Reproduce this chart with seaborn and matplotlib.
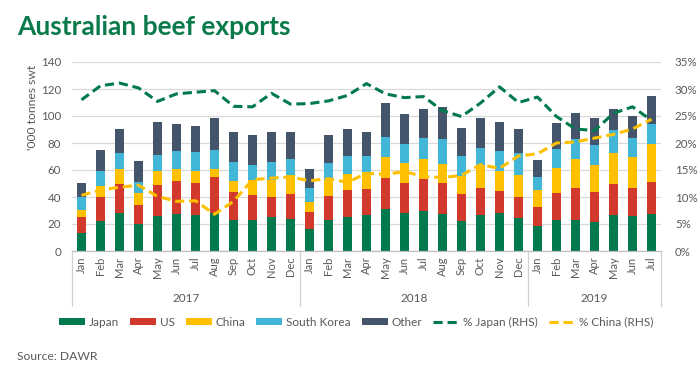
import numpy as np
import matplotlib
matplotlib.use("Agg")
import matplotlib.pyplot as plt
import seaborn as sns
from matplotlib.patches import Patch
from matplotlib.lines import Line2D
from matplotlib import transforms

# ---------------- data ----------------
years = ["2017", "2018", "2019"]
year_counts = [12, 12, 7]
month_names = ["Jan", "Feb", "Mar", "Apr", "May", "Jun",
               "Jul", "Aug", "Sep", "Oct", "Nov", "Dec"]
months = month_names + month_names + month_names[:7]

japan = [13.6, 22.3, 28.0, 20.0, 26.2, 27.2, 26.7, 28.0, 23.0, 22.8, 25.2, 23.5,
         16.1, 23.2, 25.5, 26.7, 31.2, 28.2, 29.7, 27.2, 22.3, 26.5, 28.4, 24.7,
         18.8, 23.2, 23.0, 21.8, 26.5, 26.2, 27.2]
us = [11.9, 17.5, 21.7, 14.4, 23.0, 24.5, 23.5, 26.7, 20.5, 19.0, 15.1, 18.8,
      12.6, 17.6, 20.0, 19.3, 22.7, 22.5, 23.5, 23.0, 19.7, 19.8, 16.4, 15.6,
      13.8, 19.8, 24.0, 21.7, 23.5, 20.1, 24.0]
china = [4.9, 8.4, 10.9, 8.4, 9.9, 8.9, 8.7, 6.4, 8.2, 11.1, 12.4, 13.8,
         7.9, 11.9, 11.9, 12.6, 15.6, 14.8, 14.6, 14.6, 13.4, 17.5, 14.8, 16.1,
         12.4, 18.8, 20.8, 20.3, 22.7, 23.0, 28.2]
south_korea = [9.9, 11.2, 12.1, 8.2, 12.1, 13.8, 14.3, 13.8, 14.1, 10.9, 13.3, 12.2,
               9.7, 12.8, 12.8, 11.6, 14.8, 13.9, 15.8, 18.3, 15.1, 12.6, 14.6, 16.3,
               9.7, 14.1, 14.8, 14.6, 17.1, 14.3, 14.8]
other = [9.9, 15.5, 17.8, 15.8, 24.5, 19.8, 19.1, 23.5, 22.0, 22.0, 21.8, 19.5,
         14.5, 20.1, 20.3, 17.8, 25.3, 21.8, 21.5, 23.7, 20.8, 22.3, 21.3, 17.8,
         12.8, 18.8, 19.6, 20.0, 15.6, 16.3, 20.6]
pct_japan = [28.0, 30.6, 31.1, 30.2, 27.7, 29.1, 29.4, 29.7, 26.8, 26.7, 29.2, 27.2,
             27.3, 27.8, 28.8, 31.0, 29.1, 28.4, 28.6, 26.0, 24.9, 27.4, 30.4, 27.5,
             28.5, 24.9, 22.6, 22.3, 25.5, 26.7, 24.2]
pct_china = [10.3, 11.3, 11.8, 12.2, 10.1, 9.2, 9.3, 6.8, 9.2, 13.2, 13.5, 13.7,
             13.0, 13.4, 12.7, 14.4, 14.2, 14.7, 13.8, 13.6, 14.0, 16.0, 15.3, 17.6,
             18.0, 20.0, 20.2, 20.9, 21.6, 22.6, 24.4]

series_names = ["Japan", "US", "China", "South Korea", "Other"]
line_names = ["% Japan (RHS)", "% China (RHS)"]

# ---------------- style ----------------
colors = ["#007A4D", "#D0392B", "#FFC000", "#41B6D6", "#44546A"]
jp_line_color = "#007A4D"
cn_line_color = "#FFC000"
text_gray = "#595959"
grid_gray = "#D9D9D9"

sns.set_theme(style="white")
plt.rcParams['font.family'] = ['Lato', 'DejaVu Sans']

fig = plt.figure(figsize=(7.0, 3.73), dpi=100)
ax = fig.add_axes([72 / 700, 1 - 251 / 373, (661 - 72) / 700, (251 - 62) / 373])

n = len(japan)
idx = np.arange(n)
stack = np.cumsum(np.array([japan, us, china, south_korea, other]), axis=0)

for i in reversed(range(len(series_names))):
    sns.barplot(x=idx, y=stack[i], color=colors[i], width=0.45, saturation=1,
                errorbar=None, edgecolor="none", linewidth=0, ax=ax)

ax.set_xlim(-0.5, n - 0.5)
ax.set_ylim(0, 140)
ax.set_yticks(np.arange(0, 141, 20))
ax.yaxis.grid(True, color=grid_gray, linewidth=0.9)
ax.set_axisbelow(True)
for s in ["left", "right", "top"]:
    ax.spines[s].set_visible(False)
ax.spines["bottom"].set_color("#BFBFBF")
ax.spines["bottom"].set_linewidth(0.9)
ax.set_xticks(idx)
ax.set_xticklabels(months, rotation=90, fontsize=8, color=text_gray)
ax.tick_params(axis="x", length=0, pad=4)
ax.tick_params(axis="y", length=0, labelsize=8.3, colors=text_gray, pad=8)
ax.set_xlabel("")
ax.set_ylabel("")

# secondary axis lines
ax2 = ax.twinx()
sns.lineplot(x=idx, y=pct_japan, color=jp_line_color, linewidth=2.2,
             linestyle=(0, (3, 1.6)), ax=ax2)
sns.lineplot(x=idx, y=pct_china, color=cn_line_color, linewidth=2.2,
             linestyle=(0, (3, 1.6)), ax=ax2)
ax2.set_ylim(0, 35)
ax2.set_yticks(np.arange(0, 36, 5))
ax2.set_yticklabels([f"{v}%" for v in range(0, 36, 5)])
ax2.tick_params(axis="y", length=0, labelsize=8.3, colors=text_gray, pad=10)
for s in ax2.spines.values():
    s.set_visible(False)
ax2.grid(False)
ax2.set_xlim(-0.5, n - 0.5)

# multi-level year axis
trans = transforms.blended_transform_factory(ax.transData, ax.transAxes)
bounds = np.concatenate([[0], np.cumsum(year_counts)]) - 0.5
for b in bounds:
    ax.plot([b, b], [0, -0.29], transform=trans, color="#D0D0D0",
            linewidth=0.9, clip_on=False)
for k, y in enumerate(years):
    cx = (bounds[k] + bounds[k + 1]) / 2
    ax.text(cx, -0.25, y, transform=trans, ha="center", va="center",
            fontsize=8.5, color=text_gray)

# y label
fig.text(33 / 700, 1 - 107 / 373, "'000 tonnes swt", rotation=90,
         ha="center", va="center", fontsize=8.7, color=text_gray)

# legend
handles = [Patch(facecolor=c, edgecolor="none") for c in colors]
handles += [Line2D([0], [0], color=jp_line_color, linewidth=2.2, linestyle=(0, (3, 1.6))),
            Line2D([0], [0], color=cn_line_color, linewidth=2.2, linestyle=(0, (3, 1.6)))]
leg = fig.legend(handles, series_names + line_names, loc="center",
                 bbox_to_anchor=(356 / 700, 1 - 322 / 373), ncol=7, frameon=False,
                 fontsize=8.5, handlelength=2.2, handleheight=0.5,
                 columnspacing=0.9, handletextpad=0.35)
for t in leg.get_texts():
    t.set_color(text_gray)

# title & source
fig.text(17 / 700, 1 - 35 / 373, "Australian beef exports", fontsize=19,
         fontweight="bold", color="#0A7A4B", ha="left", va="baseline")
fig.text(17 / 700, 1 - 356 / 373, "Source: DAWR", fontsize=8.7,
         color=text_gray, ha="left", va="center")

fig.savefig("out.png", dpi=100)
